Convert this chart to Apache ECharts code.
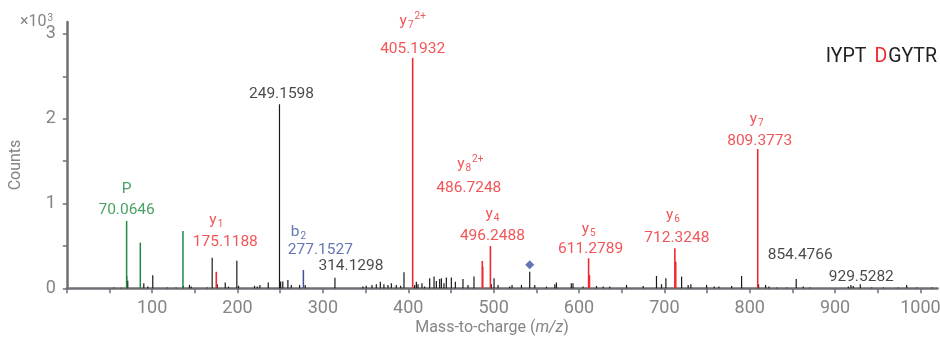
<!DOCTYPE html>
<html>
<head>
<meta charset="utf-8">
<script src="https://cdn.jsdelivr.net/npm/echarts@6/dist/echarts.min.js"></script>
<style>
  html, body { margin: 0; padding: 0; background: #ffffff; }
  #chart { width: 940px; height: 345px; }
</style>
</head>
<body>
<div id="chart"></div>
<script>
// MS/MS spectrum of IYPTDGYTR: [m/z, counts]
const unassignedPeaks = [
  [55, 10], [64, 6], [70.2, 145], [71.4, 90], [90.2, 60], [94.9, 20], [100.7, 155],
  [117.6, 8], [128, 8], [136.6, 28], [143.7, 40], [145.7, 20], [164.5, 8], [170.3, 360],
  [176.2, 48], [185.6, 68], [189.4, 20], [199.2, 325], [201.2, 30], [219.9, 30], [223.1, 20],
  [226.2, 40], [236, 68], [249.1598, 2170], [250.5, 80], [253, 80], [259, 98], [263, 40],
  [272.7, 40], [279.3, 40], [314.1298, 125], [346.9, 20], [350.8, 30], [357.5, 40],
  [362.6, 48], [367.3, 78], [371.5, 48], [376.2, 40], [380.2, 60], [386, 40], [391.1, 30],
  [395, 190], [407.5, 40], [409.5, 78], [411.4, 48], [416.1, 60], [419.2, 20], [425.1, 118],
  [430.2, 138], [432.9, 86], [436.8, 110], [438.8, 118], [441.8, 60], [444.6, 126],
  [450.5, 126], [455.2, 78], [464.1, 110], [470, 40], [477, 138], [497.3, 48], [500.5, 118],
  [505.2, 40], [518.9, 20], [521.6, 40], [532.6, 40], [542.3, 196], [548.2, 40], [561.9, 20],
  [571.7, 48], [573.6, 68], [591, 60], [593, 60], [604.8, 20], [620.5, 28], [628.3, 20],
  [636.1, 20], [655.7, 40], [675.2, 28], [690.8, 145], [696.7, 48], [701.8, 118],
  [720.2, 138], [727.9, 40], [731.1, 48], [749.5, 40], [758.4, 20], [763.9, 20], [778.8, 28],
  [790.5, 145], [810.4, 48], [818.6, 40], [822.5, 20], [831.5, 8], [843.3, 8],
  [854.4766, 110], [862.7, 20], [870.6, 8], [915.5, 20], [918.6, 40], [921.3, 28],
  [929.5282, 48], [942.9, 8], [956.5, 8], [974.1, 8], [983.9, 40], [995.6, 8], [1013.2, 8]
];
const yIonPeaks = [
  [175.1188, 195], [405.1932, 2717], [486.7248, 322], [487.23, 255], [496.2488, 499],
  [611.2789, 354], [612.28, 157], [712.3248, 472], [713.33, 314], [809.3773, 1643]
];
const immoniumPeaks = [[70.0646, 794], [86.0964, 538], [136.0757, 676]];
const bIonPeaks = [[277.1527, 216]];
const precursorPeak = [[542.3, 196]];

// annotated peaks: m/z and fragment name ('' = unassigned)
const labelMz = [70.0646, 175.1188, 249.1598, 277.1527, 314.1298, 405.1932, 486.7248,
                 496.2488, 611.2789, 712.3248, 809.3773, 854.4766, 929.5282];
const labelIon = ['P', 'y1', '', 'b2', '', 'y7 2+', 'y8 2+', 'y4', 'y5', 'y6', 'y7', '', ''];

const xTickValues = [0, 50, 100, 150, 200, 250, 300, 350, 400, 450, 500, 550, 600, 650, 700,
                     750, 800, 850, 900, 950, 1000];
const xLabelValues = [100, 200, 300, 400, 500, 600, 700, 800, 900, 1000];
const yTickValues = [0, 500, 1000, 1500, 2000, 2500, 3000];
const yLabelValues = [0, 1000, 2000, 3000];
const sequence = ['IYPT', 'D', 'GYTR'];

// ---- styling / layout ----
const C = {
  black: '#1a1a1a', red: '#ee2a2e', green: '#1d8a3e', blue: '#3f51a3',
  axis: '#6f7075', tickText: '#858585', text: '#222222'
};
const FONT = 'Roboto';
// label offsets relative to the peak apex: [number dx, dy, ion dx, dy]
const labelLayout = {
  70.0646: [0, -11, 0, -32], 175.1188: [9, -30, 0, -52], 249.1598: [2, -10],
  277.1527: [17, -20, -5, -38], 314.1298: [16, -12], 405.1932: [0, -9, 0, -37],
  486.7248: [-13.5, -73, -12, -97], 496.2488: [2, -10, 2, -32], 611.2789: [2, -9, 0, -29],
  712.3248: [2, -10, -2, -33], 809.3773: [2, -8, -1, -30], 854.4766: [4, -24], 929.5282: [1, -7]
};

const allPeaks = [].concat(unassignedPeaks, yIonPeaks, immoniumPeaks, bIonPeaks);
function heightAt(mz) {
  const p = allPeaks.find(d => Math.abs(d[0] - mz) < 1e-6);
  return p ? p[1] : 0;
}
function ionColor(ion) {
  if (!ion) return C.black;
  if (ion[0] === 'y') return C.red;
  if (ion[0] === 'b') return C.blue;
  return C.green;
}
function ionRich(ion) {
  const parts = ion.split(' ');
  const letter = parts[0][0];
  const sub = parts[0].slice(1);
  let s = '{b|' + letter + '}';
  if (sub) s += '{s|' + sub + '}';
  if (parts[1]) s += '{p|' + parts[1] + '}';
  return s;
}

function stick(width) {
  return function (params, api) {
    const x = api.value(0);
    const p0 = api.coord([x, 0]);
    const p1 = api.coord([x, api.value(1)]);
    return {
      type: 'line',
      shape: { x1: p0[0], y1: p0[1], x2: p1[0], y2: p1[1] },
      style: { stroke: api.visual('color'), lineWidth: width }
    };
  };
}
function stickSeries(data, color, width, z) {
  return { type: 'custom', data: data, renderItem: stick(width), itemStyle: { color: color },
           encode: { x: 0, y: 1 }, z: z, silent: true };
}

const numberData = labelMz.map((mz, i) => {
  const lay = labelLayout[mz];
  return {
    value: [mz, heightAt(mz)],
    label: { show: true, position: 'inside', offset: [lay[0], lay[1]],
             formatter: mz.toFixed(4), color: ionColor(labelIon[i]) }
  };
});
const ionData = labelMz.map((mz, i) => ({ mz: mz, ion: labelIon[i] }))
  .filter(d => d.ion)
  .map(d => {
    const lay = labelLayout[d.mz];
    const col = ionColor(d.ion);
    return {
      value: [d.mz, heightAt(d.mz)],
      label: { show: true, position: 'inside', offset: [lay[2], lay[3]],
               formatter: ionRich(d.ion),
               rich: {
                 b: { fontSize: 15.5, lineHeight: 20, color: col, fontFamily: FONT },
                 s: { fontSize: 10, lineHeight: 20, color: col, fontFamily: FONT, padding: [9, 0, 0, 1] },
                 p: { fontSize: 10, lineHeight: 20, color: col, fontFamily: FONT, padding: [0, 0, 9, 1] }
               } }
    };
  });

const chart = echarts.init(document.getElementById('chart'), null, { renderer: 'canvas' });
chart.setOption({
  animation: false,
  backgroundColor: '#ffffff',
  grid: { left: 66.8, right: 2.5, top: 22, bottom: 56.7, outerBoundsMode: 'none' },
  xAxis: {
    type: 'value', min: 0, max: 1020, offset: 3,
    axisLine: { lineStyle: { color: C.axis, width: 2.5 } },
    axisTick: { show: true, length: 5, customValues: xTickValues, lineStyle: { color: C.axis, width: 1.5 } },
    axisLabel: { customValues: xLabelValues, formatter: v => String(v),
                 color: C.tickText, fontSize: 18, fontFamily: FONT, margin: 8 },
    splitLine: { show: false }
  },
  yAxis: {
    type: 'value', min: 0, max: 3140, offset: 4,
    axisLine: { show: true, lineStyle: { color: C.axis, width: 2.5 } },
    axisTick: { show: true, length: 4, customValues: yTickValues, lineStyle: { color: C.axis, width: 1.5 } },
    axisLabel: { customValues: yLabelValues, formatter: v => String(v / 1000),
                 color: C.tickText, fontSize: 18, fontFamily: FONT, margin: 7 },
    splitLine: { show: false }
  },
  graphic: [
    { type: 'text', left: 20, top: 13, z: 10,
      style: { text: '×10{sup|3}', fill: C.tickText, font: '16px Roboto',
               rich: { sup: { fontSize: 10, fill: C.tickText, fontFamily: FONT, padding: [0, 0, 8, 1] } } } },
    { type: 'text', x: 16, y: 165, rotation: Math.PI / 2, z: 10,
      style: { text: 'Counts', fill: C.tickText, font: '16px Roboto', align: 'center', verticalAlign: 'middle' } },
    { type: 'text', x: 492, y: 328, z: 10,
      style: { text: 'Mass-to-charge ({i|m/z})', fill: C.tickText, font: '16px Roboto',
               align: 'center', verticalAlign: 'middle',
               rich: { i: { fontStyle: 'italic', fontSize: 16, fontFamily: FONT, fill: C.tickText } } } },
    { type: 'text', x: 937, y: 57, z: 10,
      style: { text: sequence[0] + '{d|' + sequence[1] + '}' + sequence[2], fill: C.text,
               font: '19.5px Roboto', align: 'right', verticalAlign: 'middle',
               rich: { d: { fill: C.red, fontSize: 19.5, fontFamily: FONT, padding: [0, 1, 0, 8] } } } }
  ],
  series: [
    stickSeries(unassignedPeaks, C.black, 1.2, 2),
    stickSeries(immoniumPeaks, C.green, 1.5, 3),
    stickSeries(bIonPeaks, C.blue, 1.5, 3),
    stickSeries(yIonPeaks, C.red, 1.6, 3),
    { type: 'scatter', data: precursorPeak, symbol: 'diamond', symbolSize: 9,
      symbolOffset: [0, -7], itemStyle: { color: C.blue }, z: 4, silent: true },
    { type: 'scatter', data: numberData, symbolSize: 0, z: 5, silent: true,
      label: { fontSize: 15.5, fontFamily: FONT, lineHeight: 20 } },
    { type: 'scatter', data: ionData, symbolSize: 0, z: 5, silent: true }
  ]
});
</script>
</body>
</html>
